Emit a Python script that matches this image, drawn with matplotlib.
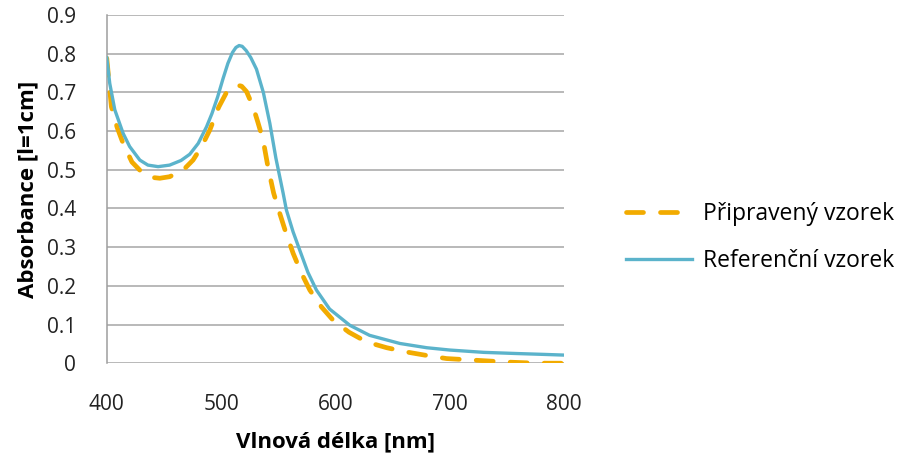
import numpy as np
import matplotlib
matplotlib.use('Agg')
import matplotlib.pyplot as plt

plt.rcParams['font.family'] = ['Open Sans', 'DejaVu Sans']

# referencni vzorek
ref_wl = [400, 402.6, 407, 414.3, 420, 428.9, 436, 444.9, 455, 465, 472.6, 480, 487.3,
          492, 497, 501.8, 506, 510, 513, 515.8, 518.5, 522, 526, 531, 537, 542.7, 548, 554.3, 557.2,
          563, 568.9, 576, 583.5, 595, 612.7, 630, 656.5, 680, 700.2, 730, 758.6, 780, 800]
ref_abs = [0.789, 0.723, 0.655, 0.594, 0.560, 0.525, 0.512, 0.508, 0.512, 0.524, 0.540, 0.568, 0.611,
           0.645, 0.688, 0.736, 0.775, 0.803, 0.816, 0.821, 0.819, 0.808, 0.790, 0.760, 0.700, 0.620, 0.530, 0.440, 0.396,
           0.340, 0.292, 0.235, 0.189, 0.140, 0.098, 0.072, 0.051, 0.040, 0.034, 0.028, 0.025, 0.023, 0.021]

# pripraveny vzorek
prep_wl = [400, 404, 409, 414.3, 422, 431.8, 440, 446.4, 455, 466.8, 475.5, 483, 490.2,
           498, 504.8, 510, 513.5, 518, 522.3, 528, 532, 536.8, 541.2, 546, 551.4, 557,
           563.1, 570, 577.7, 588, 598.1, 612, 627.3, 645, 662.3, 680, 697.3, 715, 732.3,
           750, 767.3, 785, 800]
prep_abs = [0.788, 0.663, 0.610, 0.568, 0.520, 0.490, 0.480, 0.478, 0.482, 0.499, 0.525, 0.560, 0.603,
            0.662, 0.700, 0.714, 0.719, 0.716, 0.702, 0.663, 0.625, 0.577, 0.505, 0.440, 0.387, 0.335,
            0.284, 0.235, 0.189, 0.145, 0.111, 0.080, 0.055, 0.040, 0.029, 0.020, 0.012, 0.009, 0.006,
            0.003, 0.001, 0.0, 0.0]

x_ticks = [400, 500, 600, 700, 800]
y_ticks = [0, 0.1, 0.2, 0.3, 0.4, 0.5, 0.6, 0.7, 0.8, 0.9]

fig = plt.figure(figsize=(9.05, 4.54), dpi=100)
ax = fig.add_axes([0.118, 0.2, 0.505, 0.767])

orange = '#F2AB00'
blue = '#5BB3CB'

ax.plot(prep_wl, prep_abs, color=orange, lw=3.4, dashes=(3.6, 3.6),
        dash_capstyle='round', label='Připravený vzorek', zorder=3)
ax.plot(ref_wl, ref_abs, color=blue, lw=2.4, label='Referenční vzorek', zorder=4)

ax.set_xlim(400, 800)
ax.set_ylim(0, 0.9)
ax.set_xticks(x_ticks)
ax.set_yticks(y_ticks)
ax.set_yticklabels(['0' if v == 0 else f'{v:.1f}' for v in y_ticks])
ax.tick_params(length=0, labelsize=15, colors='#222222')
ax.tick_params(axis='x', pad=22)
ax.tick_params(axis='y', pad=22)

ax.grid(axis='y', color='#A6A6A6', lw=1.1)
ax.set_axisbelow(True)
for s in ['top', 'right', 'bottom']:
    ax.spines[s].set_visible(False)
ax.spines['left'].set_color('#9E9E9E')
ax.spines['left'].set_linewidth(1.1)

ax.set_xlabel('Vlnová délka [nm]', fontsize=16, fontweight='bold', labelpad=12)
ax.set_ylabel('Absorbance [l=1cm]', fontsize=16, fontweight='bold', labelpad=6)

leg = ax.legend(loc='center left', bbox_to_anchor=(1.09, 0.36), frameon=False,
                fontsize=16.5, handlelength=2.9, labelspacing=1.0, handletextpad=0.5)

fig.savefig('out.png', dpi=100)
